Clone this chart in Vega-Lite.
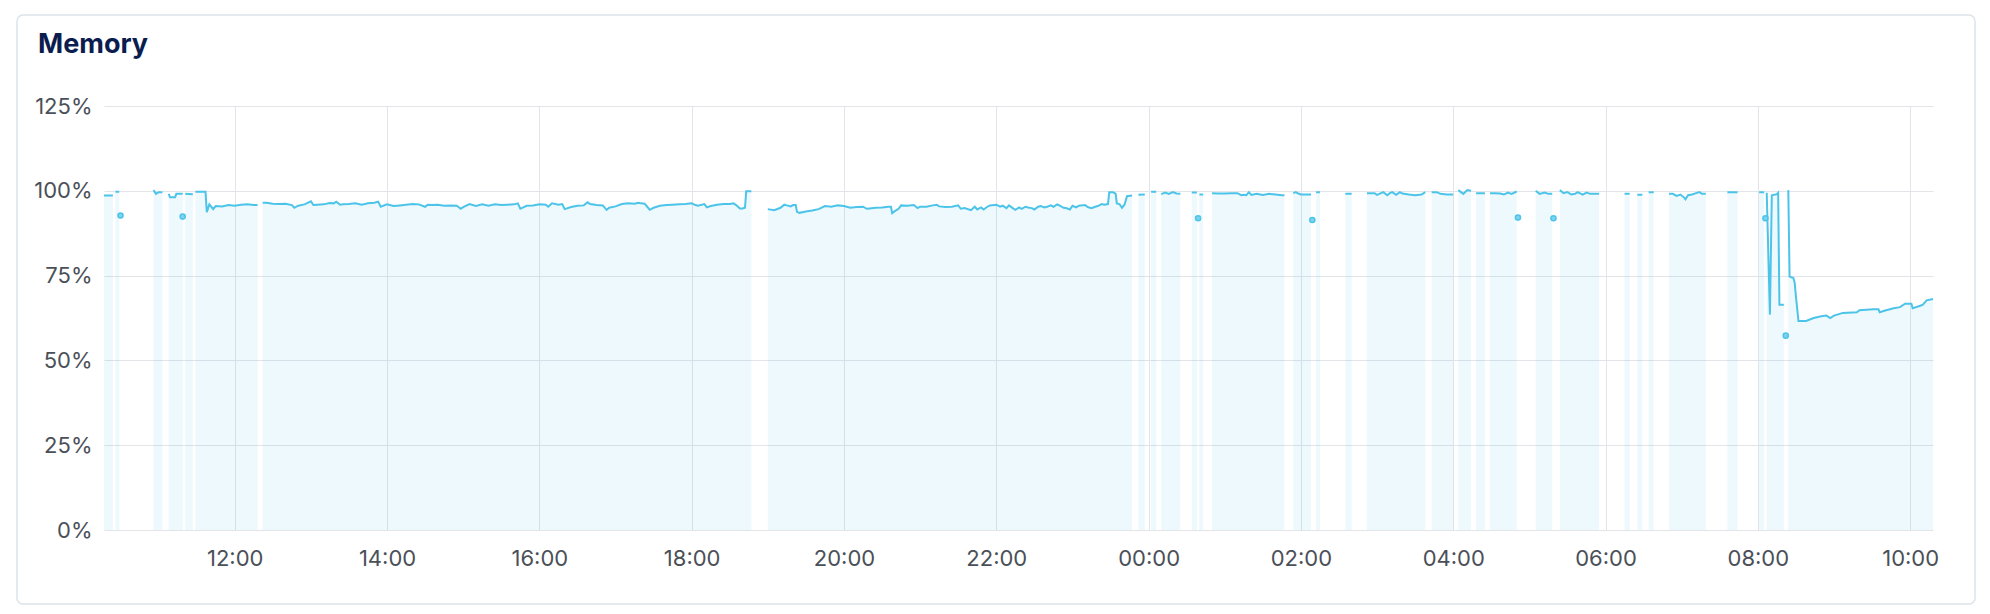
{
 "$schema": "https://vega.github.io/schema/vega-lite/v6.json",
 "width": 1958,
 "height": 589,
 "autosize": {"type": "none"},
 "padding": {"left": 17, "top": 15, "right": 15, "bottom": 10},
 "background": "white",
 "config": {"view": {"stroke": "#dde3ea", "strokeWidth": 1.5, "cornerRadius": 6, "fill": "white"}},
 "title": {"text": "Memory", "anchor": "start", "frame": "group", "dx": 21, "offset": -65, "baseline": "alphabetic", "font": "Inter", "fontSize": 27, "fontWeight": 700, "color": "#0b1d4f"},
 "datasets": {
  "mem": [
   {"t":"2024-03-01T10:17:00Z","v":98.6},{"t":"2024-03-01T10:20:00Z","v":98.6},{"t":"2024-03-01T10:24:00Z","v":98.6},{"t":"2024-03-01T10:25:00Z","v":null},
   {"t":"2024-03-01T10:26:00Z","v":99.7},{"t":"2024-03-01T10:29:00Z","v":99.7},{"t":"2024-03-01T10:30:00Z","v":null},
   {"t":"2024-03-01T10:56:00Z","v":100.2},{"t":"2024-03-01T10:58:00Z","v":99.1},{"t":"2024-03-01T11:00:00Z","v":99.6},{"t":"2024-03-01T11:03:00Z","v":99.6},{"t":"2024-03-01T11:05:00Z","v":null},
   {"t":"2024-03-01T11:08:00Z","v":99.1},{"t":"2024-03-01T11:09:00Z","v":98.1},{"t":"2024-03-01T11:13:00Z","v":98.1},{"t":"2024-03-01T11:14:00Z","v":99.1},{"t":"2024-03-01T11:19:00Z","v":99.1},{"t":"2024-03-01T11:20:00Z","v":null},
   {"t":"2024-03-01T11:21:00Z","v":99.1},{"t":"2024-03-01T11:27:00Z","v":99.0},{"t":"2024-03-01T11:28:00Z","v":null},
   {"t":"2024-03-01T11:29:00Z","v":99.7},{"t":"2024-03-01T11:37:00Z","v":99.7},{"t":"2024-03-01T11:38:00Z","v":93.7},{"t":"2024-03-01T11:40:00Z","v":96.0},{"t":"2024-03-01T11:43:00Z","v":94.6},{"t":"2024-03-01T11:45:00Z","v":95.5},{"t":"2024-03-01T11:50:00Z","v":95.4},{"t":"2024-03-01T11:55:00Z","v":95.8},
   {"t":"2024-03-01T12:00:00Z","v":95.6},{"t":"2024-03-01T12:05:00Z","v":95.9},{"t":"2024-03-01T12:10:00Z","v":96.0},{"t":"2024-03-01T12:15:00Z","v":95.8},{"t":"2024-03-01T12:18:00Z","v":95.8},{"t":"2024-03-01T12:20:00Z","v":null},
   {"t":"2024-03-01T12:22:00Z","v":96.5},{"t":"2024-03-01T12:25:00Z","v":96.5},{"t":"2024-03-01T12:30:00Z","v":96.2},{"t":"2024-03-01T12:35:00Z","v":96.1},{"t":"2024-03-01T12:40:00Z","v":96.2},{"t":"2024-03-01T12:45:00Z","v":95.8},{"t":"2024-03-01T12:47:00Z","v":95.0},{"t":"2024-03-01T12:50:00Z","v":95.6},{"t":"2024-03-01T12:55:00Z","v":96.0},
   {"t":"2024-03-01T13:00:00Z","v":96.9},{"t":"2024-03-01T13:02:00Z","v":95.8},{"t":"2024-03-01T13:05:00Z","v":95.9},{"t":"2024-03-01T13:10:00Z","v":96.0},{"t":"2024-03-01T13:15:00Z","v":96.4},{"t":"2024-03-01T13:18:00Z","v":96.3},{"t":"2024-03-01T13:20:00Z","v":96.8},{"t":"2024-03-01T13:23:00Z","v":95.9},{"t":"2024-03-01T13:25:00Z","v":96.0},{"t":"2024-03-01T13:30:00Z","v":96.1},{"t":"2024-03-01T13:35:00Z","v":96.3},{"t":"2024-03-01T13:40:00Z","v":95.9},{"t":"2024-03-01T13:45:00Z","v":96.3},{"t":"2024-03-01T13:50:00Z","v":96.5},{"t":"2024-03-01T13:53:00Z","v":96.8},{"t":"2024-03-01T13:55:00Z","v":95.3},
   {"t":"2024-03-01T14:00:00Z","v":96.0},{"t":"2024-03-01T14:05:00Z","v":95.5},{"t":"2024-03-01T14:10:00Z","v":95.7},{"t":"2024-03-01T14:15:00Z","v":95.9},{"t":"2024-03-01T14:20:00Z","v":96.1},{"t":"2024-03-01T14:25:00Z","v":96.0},{"t":"2024-03-01T14:30:00Z","v":95.3},{"t":"2024-03-01T14:32:00Z","v":95.9},{"t":"2024-03-01T14:35:00Z","v":95.8},{"t":"2024-03-01T14:40:00Z","v":95.9},{"t":"2024-03-01T14:45:00Z","v":95.6},{"t":"2024-03-01T14:50:00Z","v":95.7},{"t":"2024-03-01T14:55:00Z","v":95.6},{"t":"2024-03-01T14:58:00Z","v":94.7},
   {"t":"2024-03-01T15:00:00Z","v":95.2},{"t":"2024-03-01T15:05:00Z","v":96.1},{"t":"2024-03-01T15:10:00Z","v":95.5},{"t":"2024-03-01T15:15:00Z","v":96.0},{"t":"2024-03-01T15:20:00Z","v":95.6},{"t":"2024-03-01T15:25:00Z","v":96.0},{"t":"2024-03-01T15:30:00Z","v":95.8},{"t":"2024-03-01T15:35:00Z","v":95.9},{"t":"2024-03-01T15:40:00Z","v":96.0},{"t":"2024-03-01T15:43:00Z","v":96.3},{"t":"2024-03-01T15:45:00Z","v":94.7},{"t":"2024-03-01T15:50:00Z","v":95.6},{"t":"2024-03-01T15:55:00Z","v":95.7},
   {"t":"2024-03-01T16:00:00Z","v":96.0},{"t":"2024-03-01T16:05:00Z","v":95.9},{"t":"2024-03-01T16:07:00Z","v":95.3},{"t":"2024-03-01T16:10:00Z","v":96.3},{"t":"2024-03-01T16:15:00Z","v":95.9},{"t":"2024-03-01T16:18:00Z","v":96.1},{"t":"2024-03-01T16:20:00Z","v":94.6},{"t":"2024-03-01T16:25:00Z","v":95.2},{"t":"2024-03-01T16:30:00Z","v":95.6},{"t":"2024-03-01T16:35:00Z","v":95.7},{"t":"2024-03-01T16:38:00Z","v":96.6},{"t":"2024-03-01T16:40:00Z","v":96.1},{"t":"2024-03-01T16:45:00Z","v":95.8},{"t":"2024-03-01T16:50:00Z","v":95.7},{"t":"2024-03-01T16:53:00Z","v":94.4},{"t":"2024-03-01T16:55:00Z","v":95.0},
   {"t":"2024-03-01T17:00:00Z","v":95.4},{"t":"2024-03-01T17:05:00Z","v":96.1},{"t":"2024-03-01T17:10:00Z","v":96.3},{"t":"2024-03-01T17:15:00Z","v":96.2},{"t":"2024-03-01T17:18:00Z","v":96.5},{"t":"2024-03-01T17:20:00Z","v":96.3},{"t":"2024-03-01T17:23:00Z","v":96.2},{"t":"2024-03-01T17:25:00Z","v":95.3},{"t":"2024-03-01T17:27:00Z","v":94.4},{"t":"2024-03-01T17:30:00Z","v":95.0},{"t":"2024-03-01T17:35:00Z","v":95.6},{"t":"2024-03-01T17:40:00Z","v":95.8},{"t":"2024-03-01T17:45:00Z","v":95.9},{"t":"2024-03-01T17:50:00Z","v":96.0},{"t":"2024-03-01T17:55:00Z","v":96.1},
   {"t":"2024-03-01T18:00:00Z","v":96.3},{"t":"2024-03-01T18:03:00Z","v":95.8},{"t":"2024-03-01T18:05:00Z","v":95.6},{"t":"2024-03-01T18:10:00Z","v":96.1},{"t":"2024-03-01T18:12:00Z","v":95.1},{"t":"2024-03-01T18:15:00Z","v":95.5},{"t":"2024-03-01T18:20:00Z","v":95.9},{"t":"2024-03-01T18:25:00Z","v":96.1},{"t":"2024-03-01T18:30:00Z","v":96.1},{"t":"2024-03-01T18:33:00Z","v":96.3},{"t":"2024-03-01T18:35:00Z","v":95.8},{"t":"2024-03-01T18:38:00Z","v":94.8},{"t":"2024-03-01T18:40:00Z","v":94.8},{"t":"2024-03-01T18:42:00Z","v":95.0},{"t":"2024-03-01T18:43:00Z","v":99.9},{"t":"2024-03-01T18:47:00Z","v":99.9},{"t":"2024-03-01T18:50:00Z","v":null},
   {"t":"2024-03-01T19:00:00Z","v":94.6},{"t":"2024-03-01T19:05:00Z","v":94.3},{"t":"2024-03-01T19:10:00Z","v":95.0},{"t":"2024-03-01T19:13:00Z","v":95.9},{"t":"2024-03-01T19:15:00Z","v":95.7},{"t":"2024-03-01T19:18:00Z","v":95.4},{"t":"2024-03-01T19:20:00Z","v":95.8},{"t":"2024-03-01T19:22:00Z","v":95.8},{"t":"2024-03-01T19:23:00Z","v":93.8},{"t":"2024-03-01T19:25:00Z","v":93.5},{"t":"2024-03-01T19:30:00Z","v":93.9},{"t":"2024-03-01T19:35:00Z","v":94.2},{"t":"2024-03-01T19:40:00Z","v":94.6},{"t":"2024-03-01T19:45:00Z","v":95.5},{"t":"2024-03-01T19:50:00Z","v":95.3},{"t":"2024-03-01T19:55:00Z","v":95.7},
   {"t":"2024-03-01T20:00:00Z","v":95.5},{"t":"2024-03-01T20:05:00Z","v":95.0},{"t":"2024-03-01T20:10:00Z","v":95.2},{"t":"2024-03-01T20:15:00Z","v":95.3},{"t":"2024-03-01T20:18:00Z","v":94.7},{"t":"2024-03-01T20:20:00Z","v":94.8},{"t":"2024-03-01T20:25:00Z","v":95.0},{"t":"2024-03-01T20:30:00Z","v":95.1},{"t":"2024-03-01T20:35:00Z","v":95.3},{"t":"2024-03-01T20:37:00Z","v":95.3},{"t":"2024-03-01T20:38:00Z","v":93.4},{"t":"2024-03-01T20:40:00Z","v":94.0},{"t":"2024-03-01T20:43:00Z","v":94.7},{"t":"2024-03-01T20:45:00Z","v":95.7},{"t":"2024-03-01T20:50:00Z","v":95.6},{"t":"2024-03-01T20:55:00Z","v":95.8},{"t":"2024-03-01T20:58:00Z","v":94.9},
   {"t":"2024-03-01T21:00:00Z","v":95.3},{"t":"2024-03-01T21:05:00Z","v":95.3},{"t":"2024-03-01T21:10:00Z","v":95.7},{"t":"2024-03-01T21:13:00Z","v":95.9},{"t":"2024-03-01T21:15:00Z","v":95.4},{"t":"2024-03-01T21:20:00Z","v":95.2},{"t":"2024-03-01T21:25:00Z","v":95.3},{"t":"2024-03-01T21:30:00Z","v":95.7},{"t":"2024-03-01T21:32:00Z","v":94.7},{"t":"2024-03-01T21:35:00Z","v":94.9},{"t":"2024-03-01T21:40:00Z","v":94.3},{"t":"2024-03-01T21:43:00Z","v":95.3},{"t":"2024-03-01T21:45:00Z","v":94.5},{"t":"2024-03-01T21:48:00Z","v":95.1},{"t":"2024-03-01T21:50:00Z","v":94.5},{"t":"2024-03-01T21:53:00Z","v":95.3},{"t":"2024-03-01T21:55:00Z","v":95.7},
   {"t":"2024-03-01T22:00:00Z","v":95.9},{"t":"2024-03-01T22:03:00Z","v":95.3},{"t":"2024-03-01T22:05:00Z","v":95.6},{"t":"2024-03-01T22:08:00Z","v":94.9},{"t":"2024-03-01T22:10:00Z","v":95.7},{"t":"2024-03-01T22:13:00Z","v":94.9},{"t":"2024-03-01T22:15:00Z","v":94.4},{"t":"2024-03-01T22:18:00Z","v":95.1},{"t":"2024-03-01T22:20:00Z","v":94.7},{"t":"2024-03-01T22:23:00Z","v":95.3},{"t":"2024-03-01T22:25:00Z","v":95.1},{"t":"2024-03-01T22:28:00Z","v":94.9},{"t":"2024-03-01T22:30:00Z","v":94.5},{"t":"2024-03-01T22:33:00Z","v":95.3},{"t":"2024-03-01T22:35:00Z","v":95.5},{"t":"2024-03-01T22:38:00Z","v":95.1},{"t":"2024-03-01T22:40:00Z","v":95.3},{"t":"2024-03-01T22:43:00Z","v":95.7},{"t":"2024-03-01T22:45:00Z","v":95.3},{"t":"2024-03-01T22:48:00Z","v":96.0},{"t":"2024-03-01T22:50:00Z","v":95.6},{"t":"2024-03-01T22:53:00Z","v":95.0},{"t":"2024-03-01T22:55:00Z","v":94.9},{"t":"2024-03-01T22:58:00Z","v":94.5},
   {"t":"2024-03-01T23:00:00Z","v":95.6},{"t":"2024-03-01T23:03:00Z","v":95.1},{"t":"2024-03-01T23:05:00Z","v":95.6},{"t":"2024-03-01T23:10:00Z","v":95.8},{"t":"2024-03-01T23:12:00Z","v":95.2},{"t":"2024-03-01T23:15:00Z","v":94.9},{"t":"2024-03-01T23:18:00Z","v":95.3},{"t":"2024-03-01T23:20:00Z","v":95.5},{"t":"2024-03-01T23:23:00Z","v":96.1},{"t":"2024-03-01T23:25:00Z","v":95.9},{"t":"2024-03-01T23:28:00Z","v":96.1},{"t":"2024-03-01T23:29:00Z","v":99.6},{"t":"2024-03-01T23:32:00Z","v":99.6},{"t":"2024-03-01T23:34:00Z","v":99.2},{"t":"2024-03-01T23:35:00Z","v":96.3},{"t":"2024-03-01T23:37:00Z","v":96.1},{"t":"2024-03-01T23:39:00Z","v":95.0},{"t":"2024-03-01T23:41:00Z","v":95.9},{"t":"2024-03-01T23:43:00Z","v":98.4},{"t":"2024-03-01T23:47:00Z","v":98.6},{"t":"2024-03-01T23:49:00Z","v":null},
   {"t":"2024-03-01T23:52:00Z","v":98.8},{"t":"2024-03-01T23:57:00Z","v":98.9},{"t":"2024-03-01T23:59:00Z","v":null},
   {"t":"2024-03-02T00:02:00Z","v":99.7},{"t":"2024-03-02T00:06:00Z","v":99.7},{"t":"2024-03-02T00:08:00Z","v":null},
   {"t":"2024-03-02T00:10:00Z","v":99.0},{"t":"2024-03-02T00:13:00Z","v":99.5},{"t":"2024-03-02T00:16:00Z","v":99.1},{"t":"2024-03-02T00:19:00Z","v":99.6},{"t":"2024-03-02T00:22:00Z","v":99.2},{"t":"2024-03-02T00:25:00Z","v":99.1},{"t":"2024-03-02T00:29:00Z","v":null},
   {"t":"2024-03-02T00:34:00Z","v":99.5},{"t":"2024-03-02T00:38:00Z","v":99.5},{"t":"2024-03-02T00:39:00Z","v":null},
   {"t":"2024-03-02T00:40:00Z","v":98.9},{"t":"2024-03-02T00:43:00Z","v":98.9},{"t":"2024-03-02T00:46:00Z","v":null},
   {"t":"2024-03-02T00:50:00Z","v":99.3},{"t":"2024-03-02T00:55:00Z","v":99.2},{"t":"2024-03-02T01:00:00Z","v":99.2},{"t":"2024-03-02T01:05:00Z","v":99.3},{"t":"2024-03-02T01:10:00Z","v":99.3},{"t":"2024-03-02T01:13:00Z","v":98.7},{"t":"2024-03-02T01:15:00Z","v":98.8},{"t":"2024-03-02T01:17:00Z","v":98.7},{"t":"2024-03-02T01:19:00Z","v":99.6},{"t":"2024-03-02T01:21:00Z","v":98.8},{"t":"2024-03-02T01:25:00Z","v":99.1},{"t":"2024-03-02T01:30:00Z","v":98.8},{"t":"2024-03-02T01:35:00Z","v":99.1},{"t":"2024-03-02T01:40:00Z","v":98.9},{"t":"2024-03-02T01:45:00Z","v":98.7},{"t":"2024-03-02T01:47:00Z","v":98.7},{"t":"2024-03-02T01:50:00Z","v":null},
   {"t":"2024-03-02T01:54:00Z","v":99.3},{"t":"2024-03-02T01:56:00Z","v":99.6},{"t":"2024-03-02T01:58:00Z","v":99.2},{"t":"2024-03-02T02:00:00Z","v":98.9},{"t":"2024-03-02T02:05:00Z","v":98.9},{"t":"2024-03-02T02:08:00Z","v":98.9},{"t":"2024-03-02T02:10:00Z","v":null},
   {"t":"2024-03-02T02:12:00Z","v":99.6},{"t":"2024-03-02T02:15:00Z","v":99.6},{"t":"2024-03-02T02:20:00Z","v":null},
   {"t":"2024-03-02T02:35:00Z","v":99.1},{"t":"2024-03-02T02:40:00Z","v":99.1},{"t":"2024-03-02T02:45:00Z","v":null},
   {"t":"2024-03-02T02:52:00Z","v":99.3},{"t":"2024-03-02T02:55:00Z","v":99.3},{"t":"2024-03-02T02:58:00Z","v":99.3},{"t":"2024-03-02T03:00:00Z","v":98.8},{"t":"2024-03-02T03:03:00Z","v":99.3},{"t":"2024-03-02T03:05:00Z","v":99.6},{"t":"2024-03-02T03:08:00Z","v":98.7},{"t":"2024-03-02T03:10:00Z","v":99.3},{"t":"2024-03-02T03:12:00Z","v":99.6},{"t":"2024-03-02T03:15:00Z","v":98.8},{"t":"2024-03-02T03:18:00Z","v":99.6},{"t":"2024-03-02T03:20:00Z","v":99.2},{"t":"2024-03-02T03:25:00Z","v":98.9},{"t":"2024-03-02T03:30:00Z","v":98.7},{"t":"2024-03-02T03:35:00Z","v":98.9},{"t":"2024-03-02T03:38:00Z","v":99.6},{"t":"2024-03-02T03:40:00Z","v":null},
   {"t":"2024-03-02T03:43:00Z","v":99.6},{"t":"2024-03-02T03:47:00Z","v":99.6},{"t":"2024-03-02T03:50:00Z","v":99.1},{"t":"2024-03-02T03:55:00Z","v":98.9},{"t":"2024-03-02T04:00:00Z","v":98.9},{"t":"2024-03-02T04:02:00Z","v":null},
   {"t":"2024-03-02T04:04:00Z","v":100.2},{"t":"2024-03-02T04:08:00Z","v":99.1},{"t":"2024-03-02T04:11:00Z","v":100.2},{"t":"2024-03-02T04:14:00Z","v":100.0},{"t":"2024-03-02T04:16:00Z","v":null},
   {"t":"2024-03-02T04:18:00Z","v":99.3},{"t":"2024-03-02T04:25:00Z","v":99.3},{"t":"2024-03-02T04:27:00Z","v":null},
   {"t":"2024-03-02T04:29:00Z","v":99.3},{"t":"2024-03-02T04:33:00Z","v":99.3},{"t":"2024-03-02T04:37:00Z","v":99.2},{"t":"2024-03-02T04:40:00Z","v":98.9},{"t":"2024-03-02T04:43:00Z","v":99.5},{"t":"2024-03-02T04:46:00Z","v":99.1},{"t":"2024-03-02T04:50:00Z","v":99.8},{"t":"2024-03-02T04:52:00Z","v":null},
   {"t":"2024-03-02T05:05:00Z","v":100.0},{"t":"2024-03-02T05:08:00Z","v":99.1},{"t":"2024-03-02T05:12:00Z","v":99.5},{"t":"2024-03-02T05:15:00Z","v":99.1},{"t":"2024-03-02T05:18:00Z","v":99.1},{"t":"2024-03-02T05:21:00Z","v":null},
   {"t":"2024-03-02T05:24:00Z","v":100.2},{"t":"2024-03-02T05:27:00Z","v":99.3},{"t":"2024-03-02T05:30:00Z","v":99.6},{"t":"2024-03-02T05:33:00Z","v":98.9},{"t":"2024-03-02T05:36:00Z","v":99.1},{"t":"2024-03-02T05:38:00Z","v":99.6},{"t":"2024-03-02T05:42:00Z","v":98.9},{"t":"2024-03-02T05:45:00Z","v":99.5},{"t":"2024-03-02T05:48:00Z","v":99.1},{"t":"2024-03-02T05:52:00Z","v":99.1},{"t":"2024-03-02T05:55:00Z","v":99.1},{"t":"2024-03-02T05:58:00Z","v":null},
   {"t":"2024-03-02T06:15:00Z","v":99.1},{"t":"2024-03-02T06:19:00Z","v":99.1},{"t":"2024-03-02T06:22:00Z","v":null},
   {"t":"2024-03-02T06:25:00Z","v":98.8},{"t":"2024-03-02T06:29:00Z","v":98.8},{"t":"2024-03-02T06:31:00Z","v":null},
   {"t":"2024-03-02T06:34:00Z","v":99.6},{"t":"2024-03-02T06:38:00Z","v":99.6},{"t":"2024-03-02T06:42:00Z","v":null},
   {"t":"2024-03-02T06:50:00Z","v":99.1},{"t":"2024-03-02T06:53:00Z","v":99.1},{"t":"2024-03-02T06:56:00Z","v":98.5},{"t":"2024-03-02T06:59:00Z","v":98.9},{"t":"2024-03-02T07:02:00Z","v":98.0},{"t":"2024-03-02T07:03:00Z","v":97.5},{"t":"2024-03-02T07:05:00Z","v":98.7},{"t":"2024-03-02T07:08:00Z","v":98.9},{"t":"2024-03-02T07:12:00Z","v":99.4},{"t":"2024-03-02T07:14:00Z","v":99.6},{"t":"2024-03-02T07:16:00Z","v":99.1},{"t":"2024-03-02T07:19:00Z","v":99.1},{"t":"2024-03-02T07:25:00Z","v":null},
   {"t":"2024-03-02T07:36:00Z","v":99.6},{"t":"2024-03-02T07:44:00Z","v":99.6},{"t":"2024-03-02T07:50:00Z","v":null},
   {"t":"2024-03-02T08:01:00Z","v":99.6},{"t":"2024-03-02T08:05:00Z","v":99.6},{"t":"2024-03-02T08:06:00Z","v":null},
   {"t":"2024-03-02T08:07:00Z","v":99.4},{"t":"2024-03-02T08:09:30Z","v":63.5},{"t":"2024-03-02T08:11:00Z","v":98.7},{"t":"2024-03-02T08:15:00Z","v":99.0},{"t":"2024-03-02T08:16:00Z","v":99.4},{"t":"2024-03-02T08:17:00Z","v":66.4},{"t":"2024-03-02T08:20:30Z","v":66.4},{"t":"2024-03-02T08:21:30Z","v":null},
   {"t":"2024-03-02T08:24:00Z","v":100.2},{"t":"2024-03-02T08:25:00Z","v":74.7},{"t":"2024-03-02T08:28:00Z","v":74.3},{"t":"2024-03-02T08:29:00Z","v":73.0},{"t":"2024-03-02T08:30:00Z","v":68.9},{"t":"2024-03-02T08:32:00Z","v":61.6},{"t":"2024-03-02T08:38:00Z","v":61.6},{"t":"2024-03-02T08:44:00Z","v":62.5},{"t":"2024-03-02T08:50:00Z","v":63.0},{"t":"2024-03-02T08:54:00Z","v":63.2},{"t":"2024-03-02T08:57:00Z","v":62.5},{"t":"2024-03-02T09:00:00Z","v":63.2},{"t":"2024-03-02T09:07:00Z","v":64.0},{"t":"2024-03-02T09:18:00Z","v":64.2},{"t":"2024-03-02T09:20:00Z","v":64.8},{"t":"2024-03-02T09:31:00Z","v":65.1},{"t":"2024-03-02T09:35:00Z","v":65.1},{"t":"2024-03-02T09:36:00Z","v":64.2},{"t":"2024-03-02T09:41:00Z","v":64.8},{"t":"2024-03-02T09:47:00Z","v":65.4},{"t":"2024-03-02T09:52:00Z","v":65.7},{"t":"2024-03-02T09:56:00Z","v":66.7},{"t":"2024-03-02T10:01:00Z","v":66.7},{"t":"2024-03-02T10:02:00Z","v":65.4},{"t":"2024-03-02T10:08:00Z","v":66.1},{"t":"2024-03-02T10:10:00Z","v":66.4},{"t":"2024-03-02T10:13:00Z","v":67.7},{"t":"2024-03-02T10:18:00Z","v":68.1}
  ],
  "dots": [
   {"t":"2024-03-01T10:30:00Z","v":92.7},{"t":"2024-03-01T11:19:00Z","v":92.4},{"t":"2024-03-02T00:39:00Z","v":91.9},{"t":"2024-03-02T02:09:00Z","v":91.4},
   {"t":"2024-03-02T04:51:00Z","v":92.1},{"t":"2024-03-02T05:19:00Z","v":91.9},{"t":"2024-03-02T08:06:00Z","v":91.9},{"t":"2024-03-02T08:22:00Z","v":57.3}
  ]
 },
 "resolve": {"axis": {"x": "independent"}},
 "encoding": {
  "y": {"field": "v", "type": "quantitative", "stack": null,
   "scale": {"domain": [0, 125], "nice": false, "range": [515, 91]},
   "axis": {"title": null, "offset": -87, "values": [0, 25, 50, 75, 100, 125], "labelExpr": "datum.value + '%'", "grid": true, "gridColor": "#e2e4e7", "gridWidth": 1, "domain": false, "ticks": false, "labelFont": "Inter", "labelFontSize": 22, "labelColor": "#4b5058", "labelPadding": 12}}
 },
 "layer": [
  {"data": {"name": "mem"}, "mark": {"type": "area", "color": "#4fc3e8", "opacity": 0.1},
   "encoding": {"x": {"field": "t", "type": "temporal",
    "scale": {"type": "utc", "domain": [{"year": 2024, "month": 3, "date": 1, "hours": 10, "minutes": 17, "utc": true}, {"year": 2024, "month": 3, "date": 2, "hours": 10, "minutes": 18, "utc": true}], "nice": false, "range": [87, 1916]},
    "axis": {"title": null, "orient": "bottom", "format": "%H:%M", "offset": -74, "values": [
      {"year": 2024, "month": 3, "date": 1, "hours": 12, "utc": true},
      {"year": 2024, "month": 3, "date": 1, "hours": 14, "utc": true},
      {"year": 2024, "month": 3, "date": 1, "hours": 16, "utc": true},
      {"year": 2024, "month": 3, "date": 1, "hours": 18, "utc": true},
      {"year": 2024, "month": 3, "date": 1, "hours": 20, "utc": true},
      {"year": 2024, "month": 3, "date": 1, "hours": 22, "utc": true},
      {"year": 2024, "month": 3, "date": 2, "hours": 0, "utc": true},
      {"year": 2024, "month": 3, "date": 2, "hours": 2, "utc": true},
      {"year": 2024, "month": 3, "date": 2, "hours": 4, "utc": true},
      {"year": 2024, "month": 3, "date": 2, "hours": 6, "utc": true},
      {"year": 2024, "month": 3, "date": 2, "hours": 8, "utc": true},
      {"year": 2024, "month": 3, "date": 2, "hours": 10, "utc": true}],
     "grid": false, "domain": false, "ticks": false, "labelFont": "Inter", "labelFontSize": 22, "labelColor": "#4b5058", "labelPadding": 18, "labelFlush": false}}}},
  {"data": {"name": "mem"}, "mark": {"type": "line", "color": "#4cc4e9", "strokeWidth": 2},
   "encoding": {"x": {"field": "t", "type": "temporal",
    "axis": {"title": null, "orient": "top", "offset": 0, "values": [
      {"year": 2024, "month": 3, "date": 1, "hours": 12, "utc": true},
      {"year": 2024, "month": 3, "date": 1, "hours": 14, "utc": true},
      {"year": 2024, "month": 3, "date": 1, "hours": 16, "utc": true},
      {"year": 2024, "month": 3, "date": 1, "hours": 18, "utc": true},
      {"year": 2024, "month": 3, "date": 1, "hours": 20, "utc": true},
      {"year": 2024, "month": 3, "date": 1, "hours": 22, "utc": true},
      {"year": 2024, "month": 3, "date": 2, "hours": 0, "utc": true},
      {"year": 2024, "month": 3, "date": 2, "hours": 2, "utc": true},
      {"year": 2024, "month": 3, "date": 2, "hours": 4, "utc": true},
      {"year": 2024, "month": 3, "date": 2, "hours": 6, "utc": true},
      {"year": 2024, "month": 3, "date": 2, "hours": 8, "utc": true},
      {"year": 2024, "month": 3, "date": 2, "hours": 10, "utc": true}],
     "grid": true, "gridColor": "#e2e4e7", "gridWidth": 1, "labels": false, "domain": false, "ticks": false}}}},
  {"data": {"name": "dots"}, "mark": {"type": "point", "filled": true, "fill": "#7fd3ef", "stroke": "#4cc4e9", "strokeWidth": 1.5, "size": 26, "opacity": 1},
   "encoding": {"x": {"field": "t", "type": "temporal", "axis": null}}}
 ]
}
